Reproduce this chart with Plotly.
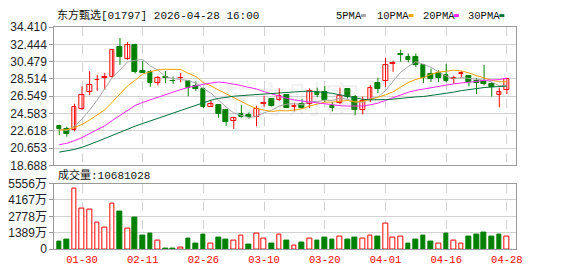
import plotly.graph_objects as go
import pandas as pd

# ---------------- data ----------------
dates = ['01-27', '01-28', '01-29', '01-30', '02-02', '02-03', '02-04', '02-05', '02-06', '02-09',
         '02-10', '02-11', '02-12', '02-13', '02-16', '02-20', '02-23', '02-24', '02-25', '02-26',
         '02-27', '03-02', '03-03', '03-04', '03-05', '03-06', '03-09', '03-10', '03-11', '03-12',
         '03-13', '03-16', '03-17', '03-18', '03-19', '03-20', '03-23', '03-24', '03-25', '03-26',
         '03-27', '03-30', '03-31', '04-01', '04-02', '04-08', '04-09', '04-10', '04-13', '04-14',
         '04-15', '04-16', '04-17', '04-20', '04-21', '04-22', '04-23', '04-24', '04-27', '04-28']

opens = [23.21, 22.81, 22.67, 25.11, 27.05, 28.35, 28.63, 28.74, 32.19, 30.83,
         32.37, 29.46, 29.32, 28.02, 28.74, 28.31, 28.60, 28.24, 27.70, 27.41,
         25.37, 25.58, 24.93, 23.78, 24.57, 24.36, 24.18, 25.65, 26.26, 26.12,
         26.73, 25.33, 25.62, 25.72, 26.98, 26.98, 25.44, 25.79, 27.41, 26.44,
         25.00, 26.16, 28.06, 28.24, 30.22, 31.29, 31.04, 31.04, 30.04, 29.03,
         29.14, 28.96, 28.53, 29.10, 28.89, 28.31, 28.31, 27.95, 26.73, 27.30]
closes = [22.81, 22.27, 25.33, 26.73, 27.81, 28.42, 28.71, 31.80, 30.97, 32.37,
          29.28, 29.22, 28.06, 28.67, 28.60, 28.24, 28.67, 27.45, 27.34, 25.37,
          25.62, 24.57, 23.64, 24.04, 24.21, 24.18, 25.15, 25.76, 25.47, 26.62,
          25.26, 25.40, 25.19, 27.16, 26.69, 26.08, 25.22, 26.62, 26.44, 25.00,
          26.01, 27.45, 27.34, 30.11, 30.29, 31.19, 30.68, 30.04, 28.67, 28.53,
          28.67, 28.31, 28.63, 29.17, 28.13, 28.06, 27.88, 27.59, 26.98, 28.53]
highs = [23.32, 23.10, 25.69, 27.66, 29.39, 28.96, 29.21, 31.87, 33.16, 32.70,
         32.52, 30.57, 29.50, 28.85, 29.39, 28.78, 29.21, 28.31, 28.24, 27.52,
         26.08, 25.65, 25.00, 24.21, 25.54, 24.72, 25.47, 26.62, 26.33, 27.45,
         26.80, 25.80, 26.26, 27.45, 27.52, 27.70, 25.90, 27.52, 27.41, 26.69,
         26.51, 27.81, 28.67, 30.93, 30.57, 31.83, 31.40, 31.40, 30.11, 29.68,
         29.50, 30.22, 28.89, 29.39, 28.89, 28.60, 30.11, 28.17, 27.52, 28.60]
lows = [22.13, 21.95, 22.56, 25.00, 26.69, 27.16, 27.27, 28.67, 30.11, 30.68,
        29.14, 29.20, 27.63, 27.77, 28.06, 27.95, 28.13, 26.55, 27.16, 25.19,
        25.37, 24.11, 23.21, 22.85, 24.11, 24.00, 23.14, 25.37, 25.37, 26.01,
        25.19, 24.82, 25.11, 25.19, 26.44, 25.90, 24.82, 25.65, 26.26, 24.39,
        24.47, 25.90, 26.91, 27.59, 29.32, 30.47, 30.40, 29.86, 28.06, 28.17,
        28.17, 28.17, 27.95, 28.60, 27.70, 26.80, 27.77, 26.51, 25.29, 26.80]
# volume in 万 shares
volumes = [671, 805, 5153, 3436, 3355, 2228, 1825, 3838, 3221, 1771,
           2684, 1127, 1288, 698, 80, 80, 161, 886, 483, 1208,
           456, 966, 805, 698, 1181, 403, 1342, 859, 483, 1262,
           725, 295, 564, 859, 725, 966, 805, 1020, 805, 966,
           859, 1181, 1047, 2147, 939, 1020, 483, 805, 1127, 617,
           456, 1288, 698, 456, 1047, 1262, 1369, 1047, 1262, 1068]

# moving-average values at the start of the window (earlier history not shown)
ma5_head = [22.75, 22.65, 23.15, 23.95]
ma10_head = [22.7, 22.75, 23.0, 23.35, 23.85, 24.4, 25.0, 25.9, 26.75]
ma20_head = [21.05, 21.2, 21.5, 21.85, 22.3, 22.75, 23.2, 23.8, 24.4, 25.0,
             25.5, 25.85, 26.15, 26.45, 26.7, 27.0, 27.3, 27.55, 27.75]
ma30_head = [20.2, 20.35, 20.5, 20.75, 21.05, 21.4, 21.75, 22.1, 22.5, 22.85,
             23.15, 23.45, 23.75, 24.05, 24.35, 24.65, 24.95, 25.25, 25.55, 25.85,
             26.1, 26.3, 26.45, 26.55, 26.62, 26.68, 26.74, 26.8, 26.86]

price_ticks = [18.688, 20.653, 22.618, 24.583, 26.549, 28.514, 30.479, 32.444, 34.410]
vol_ticks = [0, 1389, 2778, 4167, 5556]
date_ticks = ['01-30', '02-11', '02-26', '03-10', '03-20', '04-01', '04-16', '04-28']

title_text = '东方甄选[01797] 2026-04-28 16:00'
vol_title = '成交量:10681028'
ma_names = ['5PMA', '10PMA', '20PMA', '30PMA']
ma_colors = ['#a6a6a6', '#f5a300', '#ff22ff', '#00703a']

# ---------------- derived ----------------
n = len(dates)
xs = list(range(n))
cs = pd.Series(closes)

def ma_series(win, head):
    s = cs.rolling(win).mean().tolist()
    return [round(v, 3) for v in head] + s[len(head):]

mas = [ma_series(5, ma5_head), ma_series(10, ma10_head),
       ma_series(20, ma20_head), ma_series(30, ma30_head)]

RED = '#ff0000'
GREEN = '#008000'
up = [closes[i] >= opens[i] for i in range(n)]
vol_up = [(closes[i] >= closes[i - 1]) if i > 0 else up[i] for i in range(n)]

fig = go.Figure()

# wicks
for flag, col in [(True, RED), (False, GREEN)]:
    wx, wy = [], []
    for i in range(n):
        if up[i] == flag:
            wx += [i, i, None]
            wy += [lows[i], highs[i], None]
    fig.add_trace(go.Scatter(x=wx, y=wy, mode='lines', line=dict(color=col, width=1),
                             hoverinfo='skip', showlegend=False, xaxis='x', yaxis='y'))

# bodies
bw = 0.62
ux = [i for i in xs if up[i]]
dx = [i for i in xs if not up[i]]
fig.add_trace(go.Bar(x=ux, base=[opens[i] for i in ux],
                     y=[max(closes[i] - opens[i], 0.03) for i in ux], width=bw,
                     marker=dict(color='white', line=dict(color=RED, width=1)),
                     showlegend=False, xaxis='x', yaxis='y'))
fig.add_trace(go.Bar(x=dx, base=[closes[i] for i in dx],
                     y=[max(opens[i] - closes[i], 0.03) for i in dx], width=bw,
                     marker=dict(color=GREEN, line=dict(color=GREEN, width=1)),
                     showlegend=False, xaxis='x', yaxis='y'))

# moving averages
for name, col, vals in zip(ma_names, ma_colors, mas):
    fig.add_trace(go.Scatter(x=xs, y=vals, mode='lines', name=name,
                             line=dict(color=col, width=1), showlegend=False,
                             xaxis='x', yaxis='y'))

# volume
vux = [i for i in xs if vol_up[i]]
vdx = [i for i in xs if not vol_up[i]]
fig.add_trace(go.Bar(x=vux, y=[volumes[i] for i in vux], width=bw,
                     marker=dict(color='white', line=dict(color=RED, width=1)),
                     showlegend=False, xaxis='x2', yaxis='y2'))
fig.add_trace(go.Bar(x=vdx, y=[volumes[i] for i in vdx], width=bw,
                     marker=dict(color=GREEN, line=dict(color=GREEN, width=1)),
                     showlegend=False, xaxis='x2', yaxis='y2'))

W, H = 578, 276
def px(x):
    return x / W
def py(y):
    return 1 - y / H

XD = [px(55), px(522)]
xr = [-0.65, 60.16]
tickvals_x = [dates.index(d) for d in date_ticks]
GRID = '#d2d2d2'
BORDER = '#9a9a9a'
lab_font = dict(family='Liberation Sans, Arial, Noto Sans CJK SC', size=12, color='#1e1e28')

fig.update_layout(
    width=W, height=H, margin=dict(l=0, r=0, t=0, b=0),
    paper_bgcolor='white', plot_bgcolor='white', barmode='overlay', bargap=0,
    showlegend=False,
    xaxis=dict(domain=XD, range=xr, anchor='y', tickvals=tickvals_x, showticklabels=False,
               showgrid=True, gridcolor=GRID, griddash='dash', gridwidth=1,
               showline=True, linecolor=BORDER, mirror=True, zeroline=False, ticks=''),
    yaxis=dict(domain=[py(166.9), py(21.1)], range=[price_ticks[0], price_ticks[-1]],
               tickvals=price_ticks, ticktext=['%.3f' % v for v in price_ticks],
               ticks='outside', ticklen=4, tickcolor=BORDER, tickfont=lab_font,
               showgrid=True, gridcolor=GRID, showline=True, linecolor=BORDER,
               mirror=True, zeroline=False),
    xaxis2=dict(domain=XD, range=xr, anchor='y2', matches='x', tickvals=tickvals_x,
                ticktext=date_ticks,
                tickfont=dict(family='Liberation Mono, DejaVu Sans Mono', size=10.5, color='#ff0000'),
                showgrid=True, gridcolor=GRID, griddash='dash',
                showline=True, linecolor=BORDER, mirror=True, zeroline=False, ticks=''),
    yaxis2=dict(domain=[py(255), py(186)], range=[0, vol_ticks[-1]],
                tickvals=vol_ticks,
                ticktext=[('%d万' % v) if v else '0' for v in vol_ticks],
                ticks='outside', ticklen=4, tickcolor=BORDER, tickfont=lab_font,
                showgrid=True, gridcolor=GRID, showline=True, linecolor=BORDER,
                mirror=True, zeroline=False),
)

mono = 'Liberation Mono, DejaVu Sans Mono, Noto Sans CJK SC'
anns = [
    dict(text=title_text, x=px(56), y=py(8.5), xanchor='left', yanchor='middle',
         font=dict(family=mono, size=11, color='#111')),
    dict(text=vol_title, x=px(57), y=py(176.5), xanchor='left', yanchor='middle',
         font=dict(family=mono, size=11, color='#111')),
    dict(text='东方财富', x=px(292), y=py(95), xanchor='center', yanchor='middle',
         font=dict(family='Noto Sans CJK SC', size=36, color='rgba(170,170,170,0.16)')),
]
leg_x = [338, 380, 426, 472]
shapes = []
for name, col, lx in zip(ma_names, ma_colors, leg_x):
    anns.append(dict(text=name, x=px(lx), y=py(9), xanchor='left', yanchor='middle',
                     font=dict(family=mono, size=10.5, color='#111')))
    sx = lx + 6.1 * len(name) + 3
    shapes.append(dict(type='rect', xref='paper', yref='paper',
                       x0=px(sx), x1=px(sx + 5), y0=py(10.5), y1=py(7.5),
                       fillcolor=col, line=dict(width=0)))
for a in anns:
    a.update(xref='paper', yref='paper', showarrow=False)
fig.update_layout(annotations=anns, shapes=shapes)

fig.write_html('out.html')
